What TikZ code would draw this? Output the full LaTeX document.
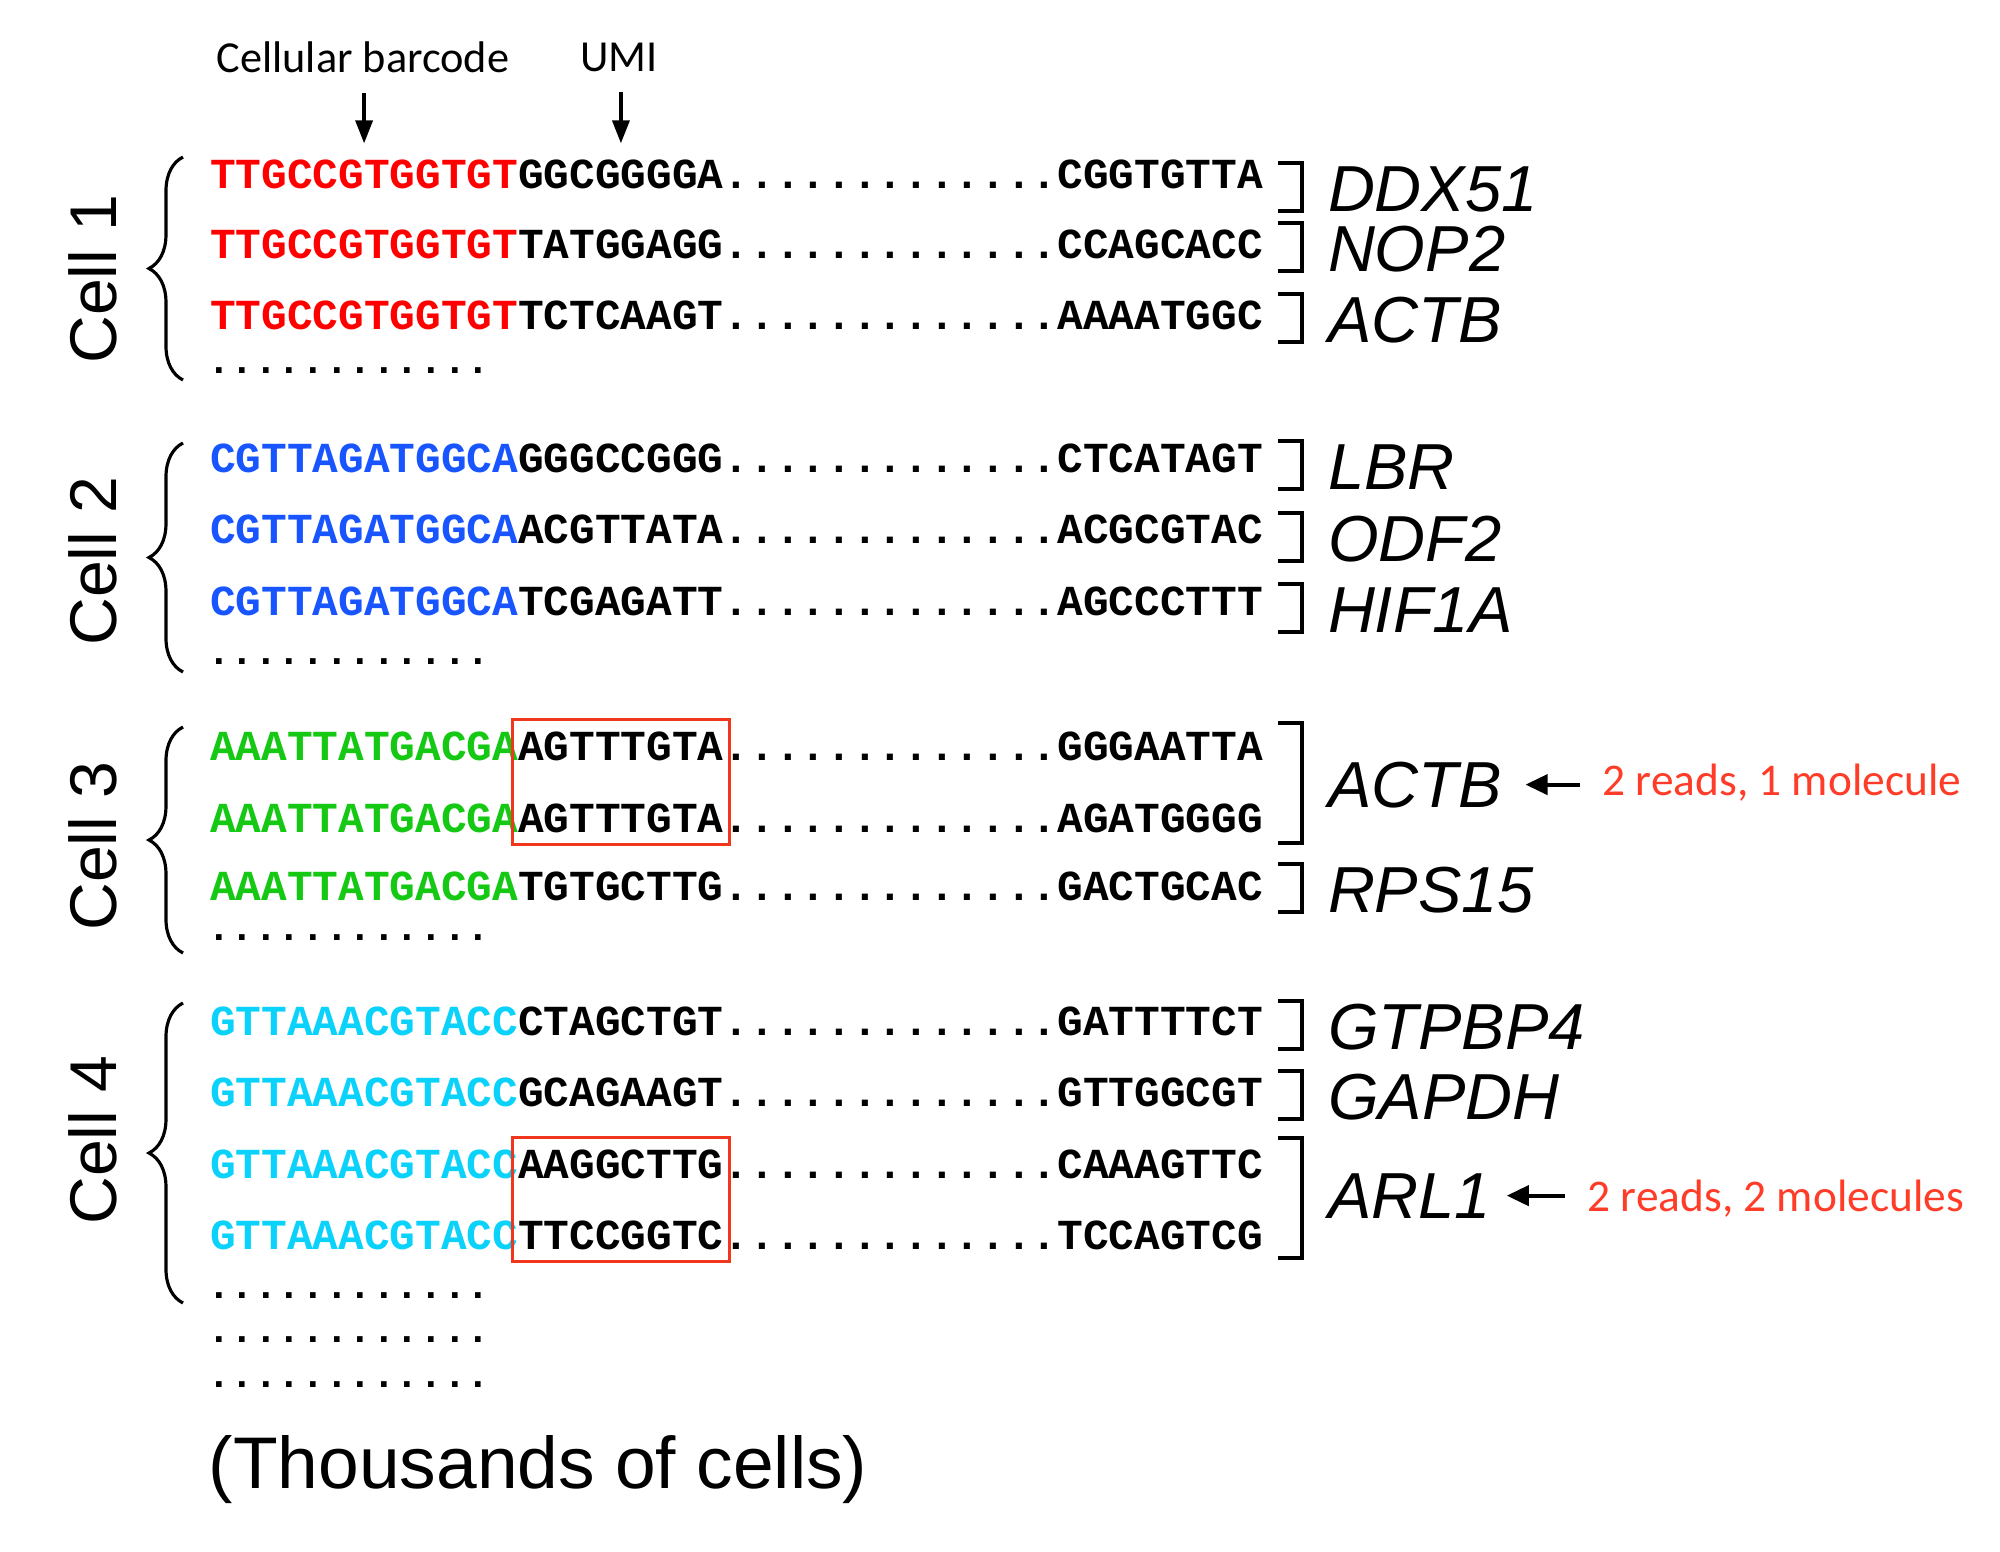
\documentclass[tikz,border=0pt]{standalone}
\usepackage{fontspec}
\setmainfont{Liberation Sans}
\newfontfamily\seqfont{Liberation Mono}
\newfontfamily\calfont{Carlito}
\usetikzlibrary{arrows.meta,decorations.pathreplacing,fit}
\definecolor{bcred}{RGB}{255,0,0}
\definecolor{bcblue}{RGB}{25,85,255}
\definecolor{bcgreen}{RGB}{20,200,20}
\definecolor{bccyan}{RGB}{10,210,250}
\definecolor{boxred}{RGB}{240,55,30}
\definecolor{notered}{RGB}{255,60,40}
\tikzset{
  seq/.style={inner sep=0pt, outer sep=0pt, anchor=base west, font=\fontsize{12.17pt}{12pt}\selectfont\seqfont\bfseries},
  lonedots/.style={inner sep=0pt, outer sep=0pt, anchor=base west, font=\fontsize{11.19pt}{11pt}\selectfont\seqfont\bfseries},
  gene/.style={inner sep=0pt, outer sep=0pt, anchor=base west, font=\fontsize{18.5pt}{18pt}\selectfont\itshape},
  celllab/.style={inner sep=0pt, rotate=90, font=\fontsize{18.8pt}{18pt}\selectfont},
  toplab/.style={inner sep=0pt, font=\fontsize{12.6pt}{12pt}\selectfont\calfont},
  note/.style={inner sep=0pt, anchor=base west, text=notered, font=\fontsize{12.9pt}{12pt}\selectfont\calfont},
  brkline/.style={line width=1pt, line join=miter},
  cellbrace/.style={decorate, decoration={brace, amplitude=3.4mm}, line width=0.9pt},
  umibox/.style={draw=boxred, line width=0.9pt, inner xsep=0.6mm, inner ysep=1.2mm},
  arrS/.style={-{Triangle[length=2.3mm,width=1.7mm]}, line width=1pt, shorten <=2mm, shorten >=1.6mm},
  arrG/.style={-{Triangle[length=2.2mm,width=2mm]}, line width=1.1pt, shorten <=2.2mm}
}
\newcommand\seqrow[6]{%
  \node[seq,text=#3] (b#1) at (210,#2+12) {#4};
  \node[seq] (u#1) at (b#1.base east) {#5};
  \node[seq] (d#1) at (u#1.base east) {.............};
  \node[seq] (e#1) at (d#1.base east) {#6};}
\newcommand\genebracket[2]{\draw[brkline] (1278,#1) -- (1302,#1) -- (1302,#2) -- (1278,#2);}
\begin{document}
\begin{tikzpicture}[x=0.01cm, y=-0.01cm]
\useasboundingbox[fill=white] (0,0) rectangle (2000,1551);

% top labels
\node[toplab] (cb) at (363,57) {Cellular barcode};
\node[toplab] (umi) at (619,57) {UMI};

% Cell 1
\seqrow{11}{176}{bcred}{TTGCCGTGGTGT}{GGCGGGGA}{CGGTGTTA}
\seqrow{12}{246}{bcred}{TTGCCGTGGTGT}{TATGGAGG}{CCAGCACC}
\seqrow{13}{317}{bcred}{TTGCCGTGGTGT}{TCTCAAGT}{AAAATGGC}
\node[lonedots] (x1) at (207,373) {............};
% Cell 2
\seqrow{21}{460}{bcblue}{CGTTAGATGGCA}{GGGCCGGG}{CTCATAGT}
\seqrow{22}{531}{bcblue}{CGTTAGATGGCA}{ACGTTATA}{ACGCGTAC}
\seqrow{23}{603}{bcblue}{CGTTAGATGGCA}{TCGAGATT}{AGCCCTTT}
\node[lonedots] (x2) at (207,664) {............};
% Cell 3
\seqrow{31}{748}{bcgreen}{AAATTATGACGA}{AGTTTGTA}{GGGAATTA}
\seqrow{32}{820}{bcgreen}{AAATTATGACGA}{AGTTTGTA}{AGATGGGG}
\seqrow{33}{888}{bcgreen}{AAATTATGACGA}{TGTGCTTG}{GACTGCAC}
\node[lonedots] (x3) at (207,940) {............};
% Cell 4
\seqrow{41}{1023}{bccyan}{GTTAAACGTACC}{CTAGCTGT}{GATTTTCT}
\seqrow{42}{1094}{bccyan}{GTTAAACGTACC}{GCAGAAGT}{GTTGGCGT}
\seqrow{43}{1166}{bccyan}{GTTAAACGTACC}{AAGGCTTG}{CAAAGTTC}
\seqrow{44}{1237}{bccyan}{GTTAAACGTACC}{TTCCGGTC}{TCCAGTCG}
\node[lonedots] (x4) at (207,1298) {............};
\node[lonedots] (x5) at (207,1342) {............};
\node[lonedots] (x6) at (207,1387) {............};

\node[inner sep=0pt, anchor=base west, font=\fontsize{20.8pt}{20pt}\selectfont] (thou) at (208,1488) {(Thousands of cells)};

% arrows from top labels
\draw[arrS] (b11.north |- cb.south) -- (b11.north);
\draw[arrS] (u11.north |- umi.south) -- (u11.north);

% UMI boxes
\node[umibox, fit=(u31)(u32)] (box3) {};
\node[umibox, fit=(u43)(u44)] (box4) {};

% brackets
\genebracket{163}{211}
\genebracket{223}{271}
\genebracket{294}{342}
\genebracket{441}{489}
\genebracket{513}{561}
\genebracket{584}{632}
\genebracket{723}{843}
\genebracket{864}{912}
\genebracket{1001}{1049}
\genebracket{1071}{1119}
\genebracket{1138}{1258}

% gene names
\node[gene] (g11) at (1328,211) {DDX51};
\node[gene] (g12) at (1328,271) {NOP2};
\node[gene] (g13) at (1328,342) {ACTB};
\node[gene] (g21) at (1328,489) {LBR};
\node[gene] (g22) at (1328,561) {ODF2};
\node[gene] (g23) at (1328,632) {HIF1A};
\node[gene] (g31) at (1328,807) {ACTB};
\node[gene] (g33) at (1328,912) {RPS15};
\node[gene] (g41) at (1328,1049) {GTPBP4};
\node[gene] (g42) at (1328,1119) {GAPDH};
\node[gene] (g43) at (1328,1218) {ARL1};

% notes
\node[note] (n1) at (1602,795) {2 reads, 1 molecule};
\node[note] (n2) at (1587,1211) {2 reads, 2 molecules};
\draw[arrG, shorten >=2.4mm] (n1.west |- g31.east) -- (g31.east);
\draw[arrG, shorten >=1.6mm] (n2.west |- g43.east) -- (g43.east);

% cell labels and braces
\node[celllab] (c1) at (93,279) {Cell 1};
\node[celllab] (c2) at (93,561) {Cell 2};
\node[celllab] (c3) at (93,846) {Cell 3};
\node[celllab] (c4) at (93,1140) {Cell 4};
\draw[cellbrace] (183,380) -- (183,157);
\draw[cellbrace] (183,672) -- (183,443);
\draw[cellbrace] (183,953) -- (183,727);
\draw[cellbrace] (183,1303) -- (183,1003);
\end{tikzpicture}
\end{document}
